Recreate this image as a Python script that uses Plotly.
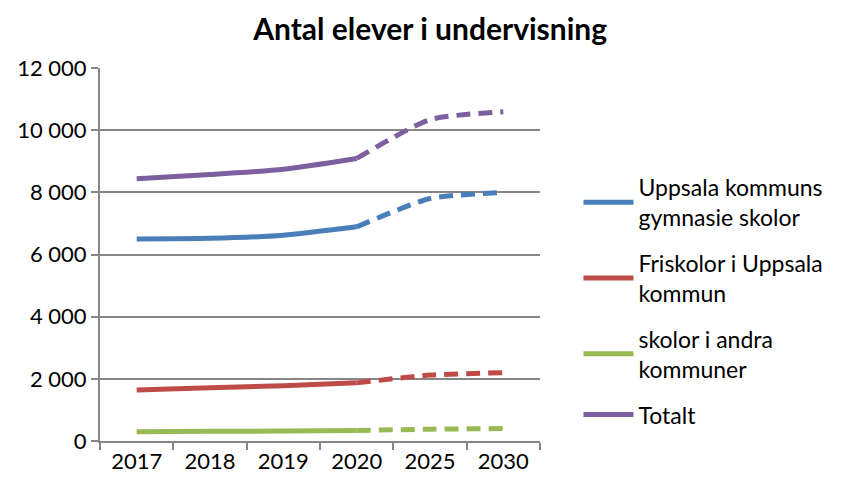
import plotly.graph_objects as go

# kategorier och värden
years = ["2017", "2018", "2019", "2020", "2025", "2030"]
uppsala_kommun = [6500, 6520, 6620, 6890, 7800, 8000]
friskolor = [1640, 1710, 1780, 1870, 2120, 2200]
andra_kommuner = [300, 310, 320, 340, 380, 400]
totalt = [8440, 8570, 8740, 9090, 10340, 10590]

series_names = [
    "Uppsala kommuns<br>gymnasie skolor",
    "Friskolor i Uppsala<br>kommun",
    "skolor i andra<br>kommuner",
    "Totalt",
]
series_values = [uppsala_kommun, friskolor, andra_kommuner, totalt]
colors = ["#4a7ebb", "#be4b48", "#98b954", "#7d5fa0"]

n_actual = 4  # 2017-2020 är utfall, resten prognos

fig = go.Figure()
for i, (name, vals, col) in enumerate(zip(series_names, series_values, colors)):
    # utfall: heldragen linje
    fig.add_trace(go.Scatter(
        x=years[:n_actual], y=vals[:n_actual], name=name, mode="lines",
        legendgroup=f"g{i}",
        line=dict(color=col, width=5, shape="spline", smoothing=0.6),
        showlegend=True,
    ))
    # prognos: streckad linje
    fig.add_trace(go.Scatter(
        x=years[n_actual - 1:], y=vals[n_actual - 1:], name=name, mode="lines",
        legendgroup=f"g{i}",
        line=dict(color=col, width=5, shape="spline", smoothing=0.6, dash="14px,8px"),
        showlegend=False,
    ))

fig.update_layout(
    width=831, height=470,
    template="plotly_white",
    paper_bgcolor="white", plot_bgcolor="white",
    font=dict(family="Lato, sans-serif", size=22, color="black"),
    separators=", ",
    title=dict(text="<b>Antal elever i undervisning</b>", x=0.508, xanchor="center",
               y=0.955, yanchor="middle", font=dict(size=30)),
    margin=dict(l=92, r=298, t=60, b=37),
    legend=dict(x=1.085, xanchor="left", y=0.738, yanchor="top",
                font=dict(size=23), tracegroupgap=13, itemwidth=50,
                bgcolor="rgba(0,0,0,0)"),
    showlegend=True,
)
fig.update_xaxes(
    type="category", range=[-0.5, 5.5], tickson="boundaries", automargin=False,
    showgrid=False, showline=True, linecolor="#868686", linewidth=2,
    ticks="outside", ticklen=7, tickwidth=2, tickcolor="#868686",
    tickfont=dict(size=22), zeroline=False,
)
fig.update_yaxes(
    range=[0, 12000], dtick=2000, tickformat=",d", automargin=False,
    showgrid=True, gridcolor="#868686", gridwidth=1.5,
    showline=True, linecolor="#868686", linewidth=2,
    ticks="outside", ticklen=7, tickwidth=2, tickcolor="#868686",
    tickfont=dict(size=22), zeroline=False,
)

fig.write_html("out.html")
